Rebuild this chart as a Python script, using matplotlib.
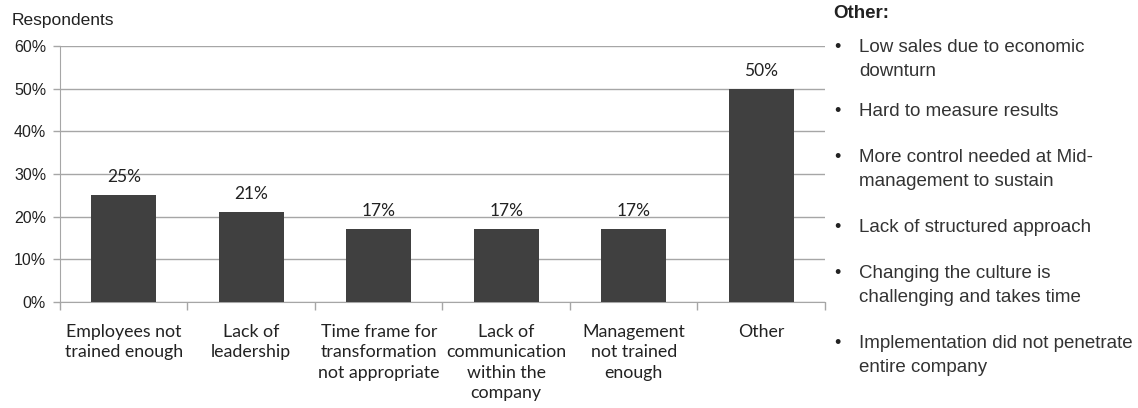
import matplotlib.pyplot as plt
from matplotlib.ticker import MultipleLocator, FuncFormatter

# survey results: share of respondents per obstacle
categories = [
    "Employees not\ntrained enough",
    "Lack of\nleadership",
    "Time frame for\ntransformation\nnot appropriate",
    "Lack of\ncommunication\nwithin the\ncompany",
    "Management\nnot trained\nenough",
    "Other",
]
shares = [25, 21, 17, 17, 17, 50]

other_title = "Other:"
other_items = [
    "Low sales due to economic\ndownturn",
    "Hard to measure results",
    "More control needed at Mid-\nmanagement to sustain",
    "Lack of structured approach",
    "Changing the culture is\nchallenging and takes time",
    "Implementation did not penetrate\nentire company",
]
other_y = [48, 112, 158, 228, 274, 344]  # pixel rows from top for each bullet

W, H = 1138, 408
fig = plt.figure(figsize=(W / 100, H / 100), dpi=100)
ax = fig.add_axes([60 / W, 1 - 302 / H, 765 / W, 256 / H])

grid_col = "#a6a6a6"
x = range(len(categories))
ax.bar(x, shares, width=0.51, color="#404040", zorder=3)
for i, v in enumerate(shares):
    ax.annotate(f"{v}%", (i, v), xytext=(0, 13), textcoords="offset points",
                ha="center", va="center", fontsize=12.5, family="Lato", color="#222222")

ax.set_xlim(-0.5, len(categories) - 0.5)
ax.set_ylim(0, 60)
ax.yaxis.set_major_locator(MultipleLocator(10))
ax.yaxis.set_major_formatter(FuncFormatter(lambda v, p: f"{int(v)}%"))
ax.grid(axis="y", color=grid_col, linewidth=1, zorder=0)

ax.set_xticks([i - 0.5 for i in range(len(categories) + 1)])
ax.set_xticklabels([])
ax.set_xticks(list(x), minor=True)
ax.set_xticklabels(categories, minor=True, fontsize=12.8, family="Lato",
                   color="#222222", linespacing=1.32, va="top")
ax.tick_params(axis="x", which="major", length=6, color=grid_col, width=1)
ax.tick_params(axis="x", which="minor", length=0, pad=16)
ax.tick_params(axis="y", length=5, color=grid_col, width=1, pad=5,
               labelsize=11.5, labelcolor="#222222")
for lab in ax.get_yticklabels():
    lab.set_family("Liberation Sans")

for s in ["top", "right"]:
    ax.spines[s].set_visible(False)
ax.spines["left"].set_color(grid_col)
ax.spines["bottom"].set_color(grid_col)

fig.text(12 / W, 1 - 21 / H, "Respondents", fontsize=12.5, family="Liberation Sans",
         color="#222222", va="center")

# side list of "Other" answers
fig.text(833 / W, 1 - 13 / H, other_title, fontsize=13.5, weight="bold",
         family="Liberation Sans", color="#222222", va="center")
for item, yy in zip(other_items, other_y):
    fig.text(834 / W, 1 - yy / H, "•", fontsize=13, family="Liberation Sans",
             color="#222222", va="center")
    for k, line in enumerate(item.split("\n")):
        fig.text(859 / W, 1 - (yy + 24 * k) / H, line, fontsize=13.5,
                 family="Liberation Sans", color="#333333", va="center")

fig.savefig("out.png", dpi=100)
